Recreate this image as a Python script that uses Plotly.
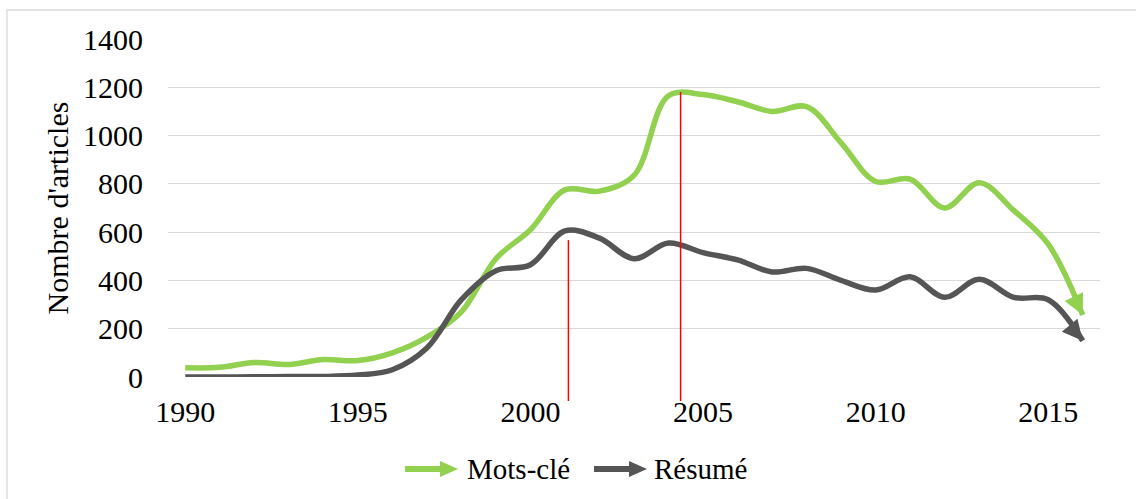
import plotly.graph_objects as go

# ---- data ----
years = list(range(1990, 2017))
mots_cle = [38, 40, 60, 52, 72, 68, 100, 165, 270, 490, 610, 775, 770, 835, 1165,
            1170, 1140, 1100, 1120, 970, 810, 820, 700, 805, 690, 550, 257]
resume = [0, 0, 1, 2, 2, 8, 30, 120, 320, 440, 465, 605, 575, 490, 555,
          515, 485, 435, 450, 400, 360, 415, 330, 405, 330, 320, 150]
tick_years = [1990, 1995, 2000, 2005, 2010, 2015]
tick_labels = ["1990", "1995", "2000", "2005", "2010", "2015"]
y_ticks = [0, 200, 400, 600, 800, 1000, 1200, 1400]
marker_years = [2001.1, 2004.35]      # red vertical markers
marker_tops = [567, 1180]             # value reached by each red marker

GREEN = "#92D050"
DARK = "#555555"
FONT = "Liberation Serif"
FS = 30
LW = 5.5

Y_MAX = 1400
# plot area geometry (px)
L, R, T, B = 168, 36, 39, 122
W, H = 1136, 499
PW, PH = W - L - R, H - T - B


def px_x(px):
    return (px - L) / PW


def px_y(py):
    return (H - B - py) / PH


fig = go.Figure()
annotations = []


def add_series(vals, color, name):
    fig.add_trace(go.Scatter(
        x=years, y=vals, name=name, mode="lines",
        line=dict(color=color, width=LW, shape="spline", smoothing=1, backoff=9),
        showlegend=False, hoverinfo="x+y+name"))
    # arrow head at the last point, oriented along the last segment
    f = 0.15
    annotations.append(dict(
        x=years[-1], y=vals[-1], xref="x", yref="y",
        ax=years[-1] - f * (years[-1] - years[-2]),
        ay=vals[-1] + f * (vals[-2] - vals[-1]),
        axref="x", ayref="y", text="", showarrow=True,
        arrowhead=2, arrowsize=0.74, arrowwidth=LW, arrowcolor=color,
        standoff=0, startstandoff=0))


add_series(mots_cle, GREEN, "Mots-clé")
add_series(resume, DARK, "Résumé")

shapes = []
# red vertical markers
for xv, top in zip(marker_years, marker_tops):
    shapes.append(dict(type="line", xref="x", yref="paper",
                       x0=xv, x1=xv, y0=-24 / PH, y1=top / Y_MAX,
                       line=dict(color="#FF0000", width=1.5), layer="above"))

# outer chart border
shapes.append(dict(type="rect", xref="paper", yref="paper",
                   x0=px_x(7), x1=px_x(1200), y0=px_y(600), y1=px_y(10),
                   line=dict(color="#D9D9D9", width=1.3), fillcolor="rgba(0,0,0,0)",
                   layer="below"))

# legend glyphs (arrow = shaft + head)
for tip_px, color, label, text_px in [(458, GREEN, "Mots-clé", 465),
                                      (647, DARK, "Résumé", 652)]:
    ya = px_y(469)
    shapes.append(dict(type="line", xref="paper", yref="paper",
                       xsizemode="pixel", ysizemode="pixel",
                       xanchor=px_x(tip_px), yanchor=ya,
                       x0=-53, x1=-14, y0=0, y1=0,
                       line=dict(color=color, width=6)))
    shapes.append(dict(type="path", xref="paper", yref="paper",
                       xsizemode="pixel", ysizemode="pixel",
                       xanchor=px_x(tip_px), yanchor=ya,
                       path="M0,0 L-18,8 L-18,-8 Z",
                       fillcolor=color, line=dict(width=0)))
    annotations.append(dict(xref="paper", yref="paper", x=px_x(text_px), y=ya,
                            xanchor="left", yanchor="middle", showarrow=False,
                            text=label, font=dict(family=FONT, size=29, color="black")))

fig.update_layout(
    width=W, height=H,
    margin=dict(l=L, r=R, t=T, b=B),
    paper_bgcolor="white", plot_bgcolor="white",
    font=dict(family=FONT, size=FS, color="black"),
    showlegend=False,
    shapes=shapes,
    annotations=annotations,
)
fig.update_xaxes(range=[1989.5, 2016.5], tickvals=tick_years, ticktext=tick_labels,
                 showgrid=False, zeroline=False, showline=False, ticks="",
                 ticklabelstandoff=14, tickfont=dict(family=FONT, size=FS))
fig.update_yaxes(range=[0, Y_MAX], tickvals=y_ticks, showgrid=True,
                 gridcolor="#D9D9D9", gridwidth=1.3, zeroline=False, showline=False,
                 ticks="", ticklabelstandoff=24, tickfont=dict(family=FONT, size=FS),
                 title=dict(text="Nombre d'articles", standoff=5,
                            font=dict(family=FONT, size=FS)))

fig.write_html("out.html", config={"displayModeBar": False},
               post_script="document.body.style.margin='0';")
